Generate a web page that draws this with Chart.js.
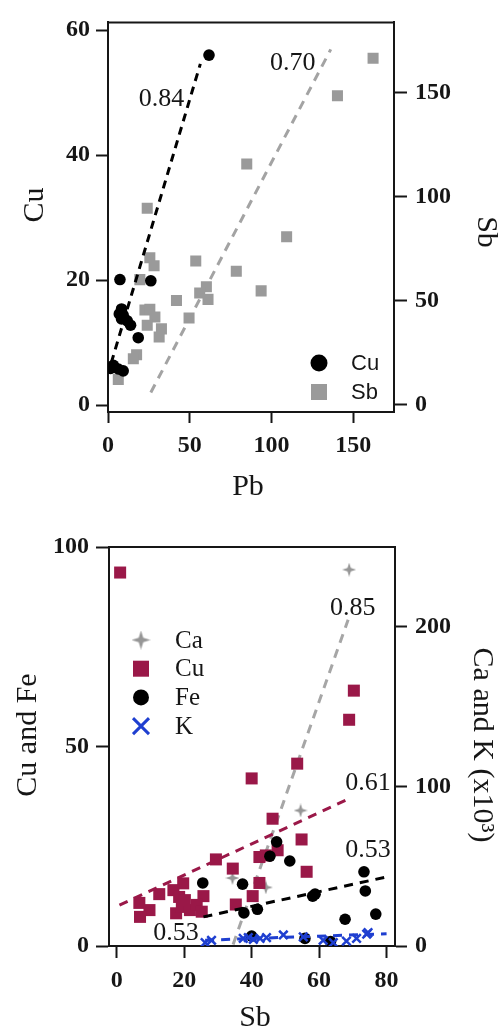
<!DOCTYPE html>
<html><head><meta charset="utf-8">
<script src="https://cdn.jsdelivr.net/npm/chart.js@4/dist/chart.umd.min.js"></script>
<style>
html,body{margin:0;padding:0;background:#fff;}
#c1{position:absolute;left:0;top:0;}
#c2{position:absolute;left:0;top:505px;}
</style></head><body>
<canvas id="c1" width="503" height="505"></canvas>
<canvas id="c2" width="503" height="531"></canvas>
<script>
// ---------- Top panel data (x = Pb) ----------
const cuPb  = [61.8, 7.3, 26.2, 8.3, 6.9, 9.3, 8.3, 11.8, 13.8, 18.5, 3.3, 6.3, 9.3, 1.6];
const cuVal = [56.0, 20.1, 19.9, 15.4, 14.6, 14.4, 13.8, 13.5, 12.8, 10.8, 6.4, 5.8, 5.5, 5.9];
const sbPb  = [162.2, 140.4, 84.9, 24, 109.3, 53.7, 25.6, 28.2, 78.5, 19.5, 93.7, 60.2, 56.1, 61.2, 41.9, 22.6, 25.6, 28.7, 24, 32.7, 31.3, 49.6, 17.5, 15.5, 6.3];
const sbVal = [166.5, 148.5, 115.7, 94.4, 80.6, 69, 70.5, 66.7, 64, 60, 54.6, 56.6, 53.6, 50.5, 50, 45.4, 45.8, 42, 38.1, 36.3, 32.4, 41.5, 23.8, 21.9, 11.9];
const cuFitPb = [2, 56.5];    const cuFitVal = [6.8, 54.6];
const sbFitPb = [26.2, 136.3]; const sbFitVal = [5.7, 170.8];
const pbTicks = [0, 50, 100, 150];
const cuTicks = [0, 20, 40, 60];
const sbTicks = [0, 50, 100, 150];

// ---------- Bottom panel data (x = Sb) ----------
const caSb  = [68.9, 54.5, 34.3, 44.2];
const caVal = [235.8, 84.9, 42.6, 36.7];
const cu2Sb  = [1.0, 70.3, 68.9, 53.5, 40, 46.2, 54.8, 56.3, 47.7, 42.3, 44.2, 34.4, 29.4, 42.3, 40.3, 35.3, 25.7, 19.7, 16.8, 18.5, 12.6, 6.7, 9.7, 6.9, 17.6, 19.3, 21.7, 23.7, 25.2, 20.2];
const cu2Val = [93.6, 64, 56.7, 45.7, 42, 31.9, 26.7, 18.6, 24, 22.3, 22.7, 19.4, 21.7, 15.8, 12.5, 10.4, 12.5, 15.7, 14, 12.3, 13, 10.8, 9, 7.3, 8.2, 9.8, 9, 10.3, 8.6, 11.5];
const feSb  = [47.4, 45.4, 51.3, 25.5, 37.3, 37.7, 41.7, 58.1, 58.8, 73.3, 73.7, 76.8, 67.7, 63.4, 55.8, 40];
const feVal = [26.1, 22.5, 21.3, 15.8, 15.5, 8.3, 9.2, 12.5, 13, 18.6, 13.8, 8, 6.7, 1.1, 1.9, 2.5];
const kSb  = [26.2, 28.1, 37.5, 39, 40.5, 42.5, 44.4, 49.4, 55.3, 61.2, 64.2, 68.1, 71.1, 74.1, 74.5];
const kVal = [2.1, 3.6, 4.8, 5.2, 4.2, 4.8, 5.2, 6.9, 5.7, 3.6, 2.1, 3.1, 4.8, 7.4, 8.4];
const caFitSb = [34.5, 68.6]; const caFitVal = [1, 204.4];
const cuFitSb = [0.8, 69.6];  const cuFitVal2 = [10.25, 37.2];
const feFitSb = [25.7, 80];   const feFitVal = [7.3, 17.3];
const kFitSb  = [26.2, 80];   const kFitVal = [3.6, 7.7];
const sbTicks2 = [0, 20, 40, 60, 80];
const cufeTicks = [0, 50, 100];
const cakTicks = [0, 100, 200];

// ---------- helpers ----------
const pts = (xs, ys) => xs.map((x, i) => ({x, y: ys[i]}));
const SERIF = "'Liberation Serif','Times New Roman',serif";
const SANS = "'Liberation Sans',Arial,sans-serif";
const INK = '#161616';
const tickFont = {family: SERIF, size: 24, weight: 'bold'};
const setTicks = arr => s => { s.ticks = arr.map(v => ({value: v})); };

function makeStar(size, color) {
  const c = document.createElement('canvas');
  c.width = c.height = size;
  const g = c.getContext('2d');
  const r = size / 2, ri = r * 0.34;
  g.fillStyle = color;
  g.beginPath();
  for (let i = 0; i < 8; i++) {
    const ang = i * Math.PI / 4 - Math.PI / 2;
    const rr = i % 2 ? ri : r;
    g.lineTo(r + rr * Math.cos(ang), r + rr * Math.sin(ang));
  }
  g.closePath(); g.fill();
  return c;
}
const starPt = makeStar(14, '#969696');
const starLg = makeStar(19, '#969696');

function drawMarker(ctx, m, x, y) {
  ctx.save();
  if (m.style === 'circle') {
    ctx.fillStyle = m.color; ctx.beginPath(); ctx.arc(x, y, m.size / 2, 0, Math.PI * 2); ctx.fill();
  } else if (m.style === 'rect') {
    ctx.fillStyle = m.color; ctx.fillRect(x - m.size / 2, y - m.size / 2, m.size, m.size);
  } else if (m.style === 'x') {
    ctx.strokeStyle = m.color; ctx.lineWidth = 3; const h = m.size / 2;
    ctx.beginPath(); ctx.moveTo(x - h, y - h); ctx.lineTo(x + h, y + h);
    ctx.moveTo(x + h, y - h); ctx.lineTo(x - h, y + h); ctx.stroke();
  } else if (m.style === 'img') {
    ctx.drawImage(m.img, x - m.img.width / 2, y - m.img.height / 2);
  }
  ctx.restore();
}

const deco = {
  id: 'deco',
  afterDraw(chart, args, o) {
    const ctx = chart.ctx, a = chart.chartArea;
    ctx.save();
    // top frame line
    ctx.strokeStyle = INK; ctx.lineWidth = 2;
    ctx.beginPath(); ctx.moveTo(a.left - 1, a.top); ctx.lineTo(a.right + 1, a.top); ctx.stroke();
    // r-value annotations
    ctx.fillStyle = INK; ctx.textAlign = 'center'; ctx.textBaseline = 'middle';
    ctx.font = "26px " + SERIF;
    for (const t of o.notes) {
      ctx.fillText(t.text, chart.scales.x.getPixelForValue(t.x), chart.scales.y.getPixelForValue(t.y));
    }
    // axis titles
    ctx.font = "30px " + SERIF;
    for (const t of o.titles) {
      ctx.save(); ctx.translate(t.px, t.py); ctx.rotate(t.rot * Math.PI / 180);
      ctx.fillText(t.text, 0, 0); ctx.restore();
    }
    // legend
    ctx.textAlign = 'left'; ctx.font = o.legendFont;
    o.legend.forEach((it, i) => {
      const y = o.legendY + i * o.legendGap;
      drawMarker(ctx, it, o.legendMX, y);
      ctx.fillStyle = INK;
      ctx.fillText(it.text, o.legendTX, y + 1);
    });
    ctx.restore();
  }
};

function axisOpts(extra) {
  return Object.assign({
    type: 'linear',
    ticks: {font: tickFont, color: INK},
    grid: {drawOnChartArea: false, drawTicks: true, tickWidth: 2, tickColor: INK},
    border: {color: INK, width: 2}
  }, extra);
}

// ---------- Top chart ----------
new Chart(document.getElementById('c1'), {
  type: 'scatter',
  data: {datasets: [
    {type: 'line', label: 'Cu fit', data: pts(cuFitPb, cuFitVal), yAxisID: 'y', borderColor: '#000', borderDash: [8, 6], borderWidth: 3, pointRadius: 0, fill: false, order: 0},
    {type: 'line', label: 'Sb fit', data: pts(sbFitPb, sbFitVal), yAxisID: 'y2', borderColor: '#a3a3a3', borderDash: [9, 7], borderWidth: 3, pointRadius: 0, fill: false, order: 3},
    {label: 'Cu', data: pts(cuPb, cuVal), yAxisID: 'y', backgroundColor: '#000', borderColor: '#000', pointStyle: 'circle', pointRadius: 5.8, borderWidth: 0, order: 1},
    {label: 'Sb', data: pts(sbPb, sbVal), yAxisID: 'y2', backgroundColor: '#9a9a9a', borderColor: '#9a9a9a', pointStyle: 'rect', pointRadius: 7.8, borderWidth: 0, order: 2}
  ]},
  options: {
    responsive: false, animation: false, devicePixelRatio: 1,
    layout: {padding: {top: 7, left: 0, right: 0, bottom: 0}},
    scales: {
      x: axisOpts({position: 'bottom', min: 0, max: 175, afterBuildTicks: setTicks(pbTicks), afterFit: s => { s.height = 93; },
        ticks: {font: tickFont, color: INK, padding: 8}, grid: {drawOnChartArea: false, tickLength: 11, tickWidth: 2, tickColor: INK}}),
      y: axisOpts({position: 'left', min: -1.08, max: 61.23, afterBuildTicks: setTicks(cuTicks), afterFit: s => { s.width = 108; },
        ticks: {font: tickFont, color: INK, padding: 6}, grid: {drawOnChartArea: false, tickLength: 12, tickWidth: 2, tickColor: INK}}),
      y2: axisOpts({position: 'right', min: -3.7, max: 183.8, afterBuildTicks: setTicks(sbTicks), afterFit: s => { s.width = 109; },
        ticks: {font: tickFont, color: INK, padding: 8}, grid: {drawOnChartArea: false, tickLength: 13, tickWidth: 2, tickColor: INK}})
    },
    plugins: {
      legend: {display: false}, tooltip: {enabled: false},
      deco: {
        notes: [{text: '0.84', x: 32.7, y: 48.9}, {text: '0.70', x: 113, y: 54.7}],
        titles: [{text: 'Cu', px: 35, py: 205, rot: -90}, {text: 'Sb', px: 486, py: 232, rot: 90}, {text: 'Pb', px: 248, py: 487, rot: 0}],
        legendFont: "22px " + SANS, legendMX: 319, legendTX: 351, legendY: 363, legendGap: 29,
        legend: [{text: 'Cu', style: 'circle', size: 17, color: '#000'}, {text: 'Sb', style: 'rect', size: 16, color: '#9a9a9a'}]
      }
    }
  },
  plugins: [deco]
});

// ---------- Bottom chart ----------
const MAROON = '#9a1848', BLUE = '#1f3fd0';
new Chart(document.getElementById('c2'), {
  type: 'scatter',
  data: {datasets: [
    {type: 'line', label: 'Ca fit', data: pts(caFitSb, caFitVal), yAxisID: 'y2', borderColor: '#a6a6a6', borderDash: [9, 7], borderWidth: 3, pointRadius: 0, fill: false, order: 6},
    {type: 'line', label: 'Cu fit', data: pts(cuFitSb, cuFitVal2), yAxisID: 'y', borderColor: MAROON, borderDash: [9, 7], borderWidth: 3, pointRadius: 0, fill: false, order: 2},
    {type: 'line', label: 'Fe fit', data: pts(feFitSb, feFitVal), yAxisID: 'y', borderColor: '#000', borderDash: [9, 7], borderWidth: 3, pointRadius: 0, fill: false, order: 1},
    {type: 'line', label: 'K fit', data: pts(kFitSb, kFitVal), yAxisID: 'y2', borderColor: BLUE, borderDash: [9, 7], borderWidth: 3, pointRadius: 0, fill: false, order: 0},
    {label: 'Ca', data: pts(caSb, caVal), yAxisID: 'y2', pointStyle: starPt, backgroundColor: '#969696', borderColor: '#969696', order: 5},
    {label: 'Cu', data: pts(cu2Sb, cu2Val), yAxisID: 'y', pointStyle: 'rect', pointRadius: 8.5, backgroundColor: MAROON, borderColor: MAROON, borderWidth: 0, order: 4},
    {label: 'Fe', data: pts(feSb, feVal), yAxisID: 'y', pointStyle: 'circle', pointRadius: 5.8, backgroundColor: '#000', borderColor: '#000', borderWidth: 0, order: 3},
    {label: 'K', data: pts(kSb, kVal), yAxisID: 'y2', pointStyle: 'crossRot', pointRadius: 6, borderWidth: 2.5, backgroundColor: BLUE, borderColor: BLUE, order: 0}
  ]},
  options: {
    responsive: false, animation: false, devicePixelRatio: 1,
    layout: {padding: {top: 42, left: 0, right: 0, bottom: 0}},
    scales: {
      x: axisOpts({position: 'bottom', min: -2.3, max: 82.5, afterBuildTicks: setTicks(sbTicks2), afterFit: s => { s.height = 90; },
        ticks: {font: tickFont, color: INK, padding: 8}, grid: {drawOnChartArea: false, tickLength: 12, tickWidth: 2, tickColor: INK}}),
      y: axisOpts({position: 'left', min: 0, max: 100, afterBuildTicks: setTicks(cufeTicks), afterFit: s => { s.width = 109; },
        ticks: {font: tickFont, color: INK, padding: 7}, grid: {drawOnChartArea: false, tickLength: 13, tickWidth: 2, tickColor: INK}}),
      y2: axisOpts({position: 'right', min: 0, max: 250, afterBuildTicks: setTicks(cakTicks), afterFit: s => { s.width = 108; },
        ticks: {font: tickFont, color: INK, padding: 8}, grid: {drawOnChartArea: false, tickLength: 12, tickWidth: 2, tickColor: INK}})
    },
    plugins: {
      legend: {display: false}, tooltip: {enabled: false},
      deco: {
        notes: [{text: '0.85', x: 70, y: 84.7}, {text: '0.61', x: 74.5, y: 40.7}, {text: '0.53', x: 74.5, y: 24}, {text: '0.53', x: 17.6, y: 3.3}],
        titles: [{text: 'Cu and Fe', px: 28, py: 230, rot: -90}, {text: 'Ca and K (x10³)', px: 482, py: 240, rot: 90}, {text: 'Sb', px: 255, py: 513, rot: 0}],
        legendFont: "25px " + SERIF, legendMX: 141, legendTX: 175, legendY: 135, legendGap: 28.7,
        legend: [{text: 'Ca', style: 'img', img: starLg}, {text: 'Cu', style: 'rect', size: 16, color: MAROON},
                 {text: 'Fe', style: 'circle', size: 16, color: '#000'}, {text: 'K', style: 'x', size: 16, color: BLUE}]
      }
    }
  },
  plugins: [deco]
});
</script>
</body></html>
